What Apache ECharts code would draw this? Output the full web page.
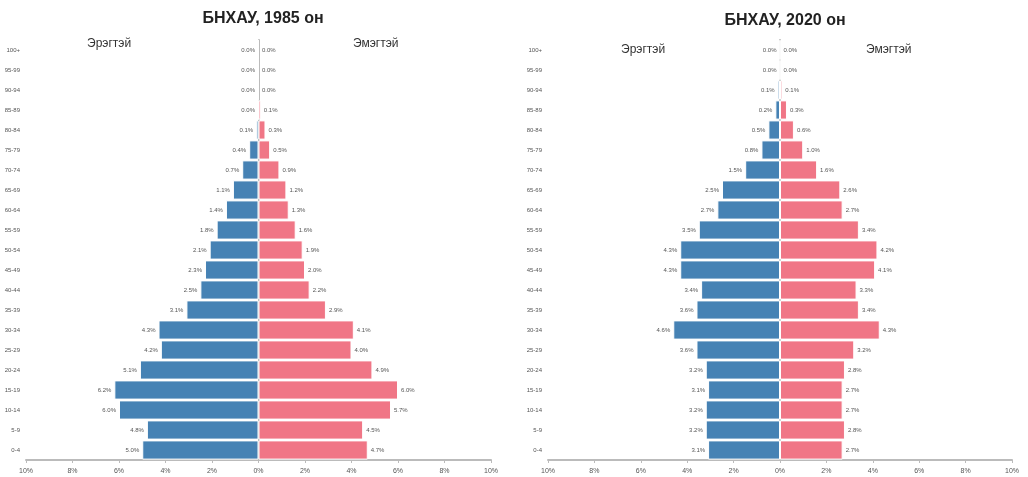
<!DOCTYPE html>
<html><head><meta charset="utf-8">
<script src="https://cdn.jsdelivr.net/npm/echarts@6/dist/echarts.min.js"></script>
<style>html,body{margin:0;padding:0;background:#fff}#c{width:1028px;height:477px}</style>
</head><body><div id="c"></div>
<script>
const ages = ["0-4","5-9","10-14","15-19","20-24","25-29","30-34","35-39","40-44","45-49","50-54","55-59","60-64","65-69","70-74","75-79","80-84","85-89","90-94","95-99","100+"];
const male1985 = [5.0,4.8,6.0,6.2,5.1,4.2,4.3,3.1,2.5,2.3,2.1,1.8,1.4,1.1,0.7,0.4,0.1,0.0,0.0,0.0,0.0];
const female1985 = [4.7,4.5,5.7,6.0,4.9,4.0,4.1,2.9,2.2,2.0,1.9,1.6,1.3,1.2,0.9,0.5,0.3,0.1,0.0,0.0,0.0];
const male2020 = [3.1,3.2,3.2,3.1,3.2,3.6,4.6,3.6,3.4,4.3,4.3,3.5,2.7,2.5,1.5,0.8,0.5,0.2,0.1,0.0,0.0];
const female2020 = [2.7,2.8,2.7,2.7,2.8,3.2,4.3,3.4,3.3,4.1,4.2,3.4,2.7,2.6,1.6,1.0,0.6,0.3,0.1,0.0,0.0];
const titles = ["БНХАУ, 1985 он","БНХАУ, 2020 он"];

const chart = echarts.init(document.getElementById('c'));
const grids = [{left:26,right:537,top:40,bottom:17},{left:548,right:16,top:40,bottom:17}];
const xAxes = grids.map((g,i)=>({gridIndex:i,type:'value',min:-10,max:10,interval:2,
  axisLine:{show:true,lineStyle:{color:'#bbb',width:2}},axisTick:{show:true,length:3,lineStyle:{color:'#bbb'}},
  splitLine:{show:false},axisLabel:{fontSize:7,color:'#555',formatter:v=>Math.abs(v)+'%'}}));
const yAxes = grids.map((g,i)=>({gridIndex:i,type:'category',data:ages,
  axisLine:{show:true,lineStyle:{color:'#bbb',width:2}},axisTick:{show:false},
  axisLabel:{fontSize:6,color:'#555',margin:6}}));
function mk(data,i,male){
  return {type:'bar',xAxisIndex:i,yAxisIndex:i,stack:'s'+i,barCategoryGap:'4%',
    data:data.map(v=>male?-v:v),
    itemStyle:{color:male?'#4682b4':'#f07686',borderColor:'#fff',borderWidth:1},
    label:{show:true,position:male?'left':'right',fontSize:6,color:'#555',distance:3,
      formatter:p=>Math.abs(p.value).toFixed(1)+'%'}};
}
chart.setOption({
  animation:false,
  grid:grids,xAxis:xAxes,yAxis:yAxes,
  title:[{text:titles[0],left:258,top:6,textAlign:'center',textStyle:{fontSize:16,fontWeight:'bold',color:'#222'}},
         {text:titles[1],left:780,top:8,textAlign:'center',textStyle:{fontSize:16,fontWeight:'bold',color:'#222'}}],
  graphic:[
    {type:'text',left:87,top:38,style:{text:'Эрэгтэй',fontSize:12,fill:'#333'}},
    {type:'text',left:353,top:38,style:{text:'Эмэгтэй',fontSize:12,fill:'#333'}},
    {type:'text',left:621,top:44,style:{text:'Эрэгтэй',fontSize:12,fill:'#333'}},
    {type:'text',left:866,top:44,style:{text:'Эмэгтэй',fontSize:12,fill:'#333'}}
  ],
  series:[mk(male1985,0,true),mk(female1985,0,false),mk(male2020,1,true),mk(female2020,1,false)]
});
</script></body></html>
